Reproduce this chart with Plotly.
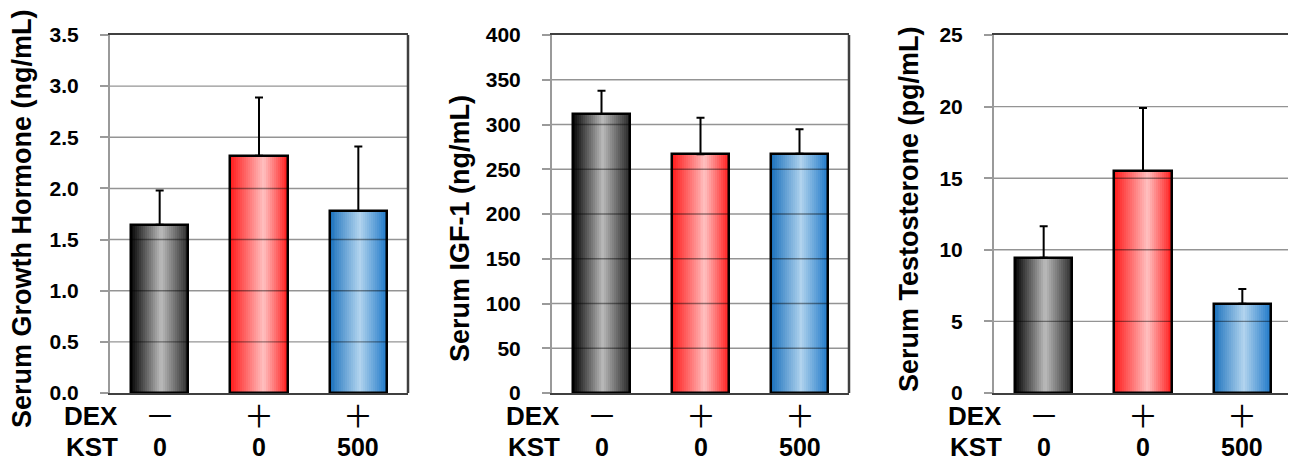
import plotly.graph_objects as go

# ---------------- data ----------------
categories = ["Control", "DEX", "DEX + KST 500"]
dex_labels = ["－", "＋", "＋"]
kst_labels = ["0", "0", "500"]

gh_mean = [1.645, 2.32, 1.78]
gh_err = [0.335, 0.57, 0.63]

igf_mean = [311.7, 266.7, 267.4]
igf_err = [26.1, 40.9, 27.2]

t_mean = [9.45, 15.5, 6.24]
t_err = [2.19, 4.4, 1.02]

gh_ticks = [0.0, 0.5, 1.0, 1.5, 2.0, 2.5, 3.0, 3.5]
igf_ticks = [0, 50, 100, 150, 200, 250, 300, 350, 400]
t_ticks = [0, 5, 10, 15, 20, 25]

titles = ["Serum Growth Hormone (ng/mL)", "Serum IGF-1 (ng/mL)", "Serum Testosterone (pg/mL)"]

# ---------------- style ----------------
OFF = 8  # page body margin
W, H = 1296 - OFF, 463 - OFF
FONT = "Arial, Liberation Sans, sans-serif"


def px(X):
    return (X - OFF) / W


def py(Y):
    return 1 - (Y - OFF) / H


panels = [
    dict(mean=gh_mean, err=gh_err, ticks=gh_ticks, fmt=".1f", left=110, right=408, tx=22, ty=219),
    dict(mean=igf_mean, err=igf_err, ticks=igf_ticks, fmt="d", left=552, right=849, tx=460, ty=229),
    dict(mean=t_mean, err=t_err, ticks=t_ticks, fmt="d", left=994, right=1292, tx=909, ty=209),
]
top_px, bot_px = 35, 393
ydom = [py(bot_px), py(top_px)]

# gradient (left, centre, right, centre position) per category
grads = [
    ((5, 5, 5), (188, 188, 188), (38, 38, 38), 0.52),
    ((255, 25, 25), (255, 192, 192), (255, 28, 28), 0.58),
    ((25, 112, 188), (178, 212, 238), (30, 120, 200), 0.53),
]


def grad_color(g, t):
    l, c, r, m = g
    if t <= m:
        f = t / m
        a, b = l, c
    else:
        f = (t - m) / (1 - m)
        a, b = c, r
    rgb = [round(a[k] + (b[k] - a[k]) * f) for k in range(3)]
    return "rgb(%d,%d,%d)" % tuple(rgb)


BW = 0.58
NS = 29
dw = BW / NS
xs = list(range(len(categories)))

fig = go.Figure()
shapes = []
annotations = []

for p_i, p in enumerate(panels):
    ax = "" if p_i == 0 else str(p_i + 1)
    xref, yref = "x" + ax, "y" + ax
    # gradient slices
    for s in range(NS):
        t = (s + 0.5) / NS
        fig.add_trace(go.Bar(
            x=xs, y=p["mean"], xaxis=xref, yaxis=yref,
            offset=-BW / 2 + s * dw,
            width=dw * (1.7 if s < NS - 1 else 1.0),
            marker=dict(color=[grad_color(g, t) for g in grads], line=dict(width=0)),
            showlegend=False, hoverinfo="skip",
        ))
    # outline + error bars
    fig.add_trace(go.Bar(
        x=xs, y=p["mean"], xaxis=xref, yaxis=yref,
        offset=-BW / 2, width=BW,
        marker=dict(color="rgba(0,0,0,0)", line=dict(color="black", width=2.5)),
        error_y=dict(type="data", array=p["err"], arrayminus=[0] * len(xs),
                     symmetric=False, color="black", thickness=2, width=4),
        showlegend=False, hovertext=categories,
    ))

    xd = [px(p["left"]), px(p["right"])]
    ymax = p["ticks"][-1]
    fig.layout["xaxis" + ax] = dict(
        domain=xd, range=[-0.5, 2.5], anchor=yref, automargin=False,
        showline=True, mirror=True, linecolor="#404040", linewidth=2,
        showgrid=False, zeroline=False, showticklabels=False, ticks="",
    )
    fig.layout["yaxis" + ax] = dict(
        domain=ydom, range=[0, ymax], anchor=xref, automargin=False,
        tickvals=p["ticks"], tickformat=p["fmt"],
        showline=True, linecolor="#9a9a9a", linewidth=2,
        ticks="outside", ticklen=8, tickwidth=1.5, tickcolor="#9a9a9a",
        tickfont=dict(family=FONT, size=21, color="black", weight="bold"),
        ticklabelstandoff=17,
        showgrid=False, zeroline=False,
    )
    # gridlines over bars
    for tv in p["ticks"][1:-1]:
        shapes.append(dict(type="line", xref=xref + " domain", yref=yref,
                           x0=0, x1=1, y0=tv, y1=tv, layer="above",
                           line=dict(color="rgba(0,0,0,0.42)", width=1.4)))
    # right frame
    shapes.append(dict(type="line", xref=xref + " domain", yref=yref + " domain",
                       x0=1, x1=1, y0=0, y1=1, layer="above",
                       line=dict(color="#404040", width=2.5)))

    # y title
    annotations.append(dict(
        text="<b>%s</b>" % titles[p_i], textangle=-90, showarrow=False,
        xref="paper", yref="paper", x=px(p["tx"]), y=py(p["ty"]),
        xanchor="center", yanchor="middle",
        font=dict(family=FONT, size=27, color="black"),
    ))
    # row labels
    for lab, yy in (("DEX", 416), ("KST", 447)):
        annotations.append(dict(
            text="<b>%s</b>" % lab, showarrow=False,
            xref="paper", yref="paper", x=px(p["left"] + 9.5), y=py(yy),
            xanchor="right", yanchor="middle",
            font=dict(family=FONT, size=26, color="black"),
        ))
    for i in xs:
        annotations.append(dict(
            text=dex_labels[i], showarrow=False,
            xref=xref, yref="paper", x=i, y=py(414),
            xanchor="center", yanchor="middle",
            font=dict(family="Noto Sans CJK JP", size=30, color="black"),
        ))
        annotations.append(dict(
            text="<b>%s</b>" % kst_labels[i], showarrow=False,
            xref=xref, yref="paper", x=i, y=py(447),
            xanchor="center", yanchor="middle",
            font=dict(family=FONT, size=25, color="black"),
        ))

fig.update_layout(
    width=W, height=H, autosize=False,
    margin=dict(l=0, r=0, t=0, b=0, autoexpand=False),
    paper_bgcolor="white", plot_bgcolor="white",
    barmode="overlay", bargap=0,
    shapes=shapes, annotations=annotations,
    font=dict(family=FONT),
)

fig.write_html("out.html")
